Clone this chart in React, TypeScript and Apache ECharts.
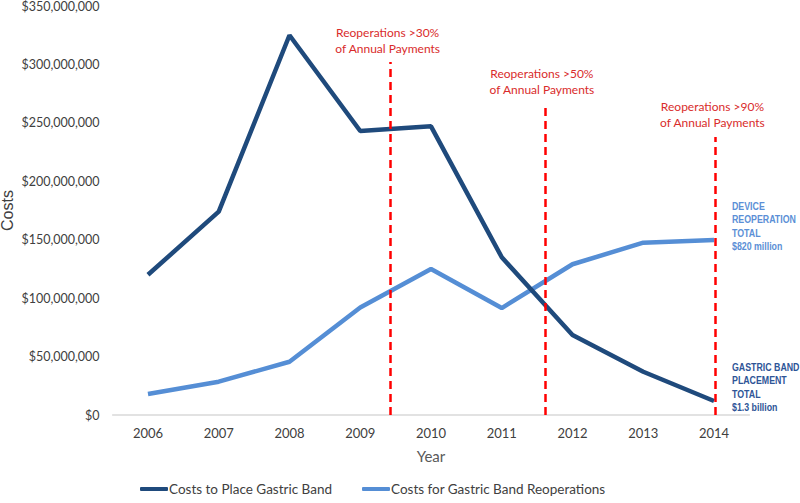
import React, { useEffect, useRef } from "react";
import * as echarts from "echarts";

const years = ["2006", "2007", "2008", "2009", "2010", "2011", "2012", "2013", "2014"];
const placeCosts = [120000000, 174000000, 325000000, 243000000, 247000000, 135000000, 68500000, 37000000, 12000000];
const reopCosts = [18000000, 28500000, 45600000, 92000000, 125000000, 91500000, 129000000, 147500000, 149700000];
const seriesNames = ["Costs to Place Gastric Band", "Costs for Gastric Band Reoperations"];
const thresholdLabels = [
  "Reoperations >30%\nof Annual Payments",
  "Reoperations >50%\nof Annual Payments",
  "Reoperations >90%\nof Annual Payments",
];
const thresholdPositions = [3.43, 5.61, 8.02];
const thresholdTops = [302000000, 263000000, 238000000];
const thresholdLabelGaps = [6, 10, 6];
const endLabels = ["GASTRIC BAND\nPLACEMENT\nTOTAL\n$1.3 billion", "DEVICE\nREOPERATION\nTOTAL\n$820 million"];
const endLabelColors = ["#2E5597", "#5B8FD6"];
const yTicks = { min: 0, max: 350000000, interval: 50000000 };

function fmt(v: number) {
  return "$" + Math.round(v).toString().replace(/\B(?=(\d{3})+(?!\d))/g, ",");
}

export default function App() {
  const ref = useRef<HTMLDivElement>(null);
  useEffect(() => {
    if (!ref.current) return;
    const chart = echarts.init(ref.current, null, { renderer: "svg" });
    chart.setOption({
      animation: false,
      backgroundColor: "#ffffff",
      grid: {
        left: 112.6,
        right: 50.6,
        top: 6,
        bottom: 88,
        outerBounds: { left: -100, right: -100, top: -100, bottom: -100 },
      },
      legend: {
        bottom: 2,
        left: 135,
        itemWidth: 28,
        itemHeight: 4,
        itemGap: 30,
        icon: "roundRect",
        textStyle: { fontFamily: "Lato", fontSize: 13.5, color: "#404040", padding: [0, 0, 0, -4] },
        data: seriesNames,
      },
      xAxis: [
        {
          type: "category",
          data: years,
          boundaryGap: true,
          name: "Year",
          nameLocation: "middle",
          nameGap: 33,
          nameTextStyle: { fontFamily: "Lato", fontSize: 15, color: "#595959" },
          axisLine: { lineStyle: { color: "#D9D9D9", width: 1.5 } },
          axisTick: { show: false },
          axisLabel: { fontFamily: "Lato", fontSize: 13, color: "#404040", margin: 11 },
        },
        { type: "value", min: -0.5, max: 8.5, show: false },
      ],
      yAxis: {
        type: "value",
        min: yTicks.min,
        max: yTicks.max,
        interval: yTicks.interval,
        name: "Costs",
        nameLocation: "middle",
        nameRotate: 90,
        nameGap: 97,
        nameMoveOverlap: false,
        nameTextStyle: { fontFamily: "'Liberation Sans', Arial, sans-serif", fontSize: 16, color: "#404040" },
        axisLine: { show: false },
        axisTick: { show: false },
        splitLine: { show: false },
        axisLabel: {
          fontFamily: "Lato",
          fontSize: 12.5,
          color: "#404040",
          margin: 13,
          formatter: (v: number) => fmt(v),
        },
      },
      series: [
        {
          name: seriesNames[0],
          type: "line",
          data: placeCosts,
          symbol: "none",
          lineStyle: { color: "#1F4A7C", width: 4.5 },
          itemStyle: { color: "#1F4A7C" },
          z: 3,
        },
        {
          name: seriesNames[1],
          type: "line",
          data: reopCosts,
          symbol: "none",
          lineStyle: { color: "#558ED5", width: 4.5 },
          itemStyle: { color: "#558ED5" },
          z: 2,
        },
        {
          name: "thresholds",
          type: "line",
          xAxisIndex: 1,
          data: thresholdPositions.map((p) => [p, 0]),
          symbol: "none",
          lineStyle: { opacity: 0 },
          clip: false,
          silent: true,
          z: 5,
          markLine: {
            silent: true,
            symbol: ["none", "none"],
            animation: false,
            lineStyle: { color: "#FF0000", type: [8, 5], width: 2.5 },
            label: {
              show: true,
              position: "end",
              fontFamily: "Lato",
              fontSize: 12,
              lineHeight: 16,
              color: "#D92B2B",
              offset: [-3, 0],
            },
            data: thresholdPositions.map((p, i) => [
              { coord: [p, 0] },
              {
                coord: [p, thresholdTops[i]],
                label: { formatter: thresholdLabels[i], distance: thresholdLabelGaps[i] },
              },
            ]),
          },
        },
      ],
    });

    const last = years.length - 1;
    const ends = [placeCosts[last], reopCosts[last]];
    const dy = [-14, -14];
    const elements = ends.map((v, i) => {
      const pt = chart.convertToPixel({ xAxisIndex: 0, yAxisIndex: 0 }, [years[last], v]) as number[];
      return {
        type: "text",
        x: pt[0] + 18,
        y: pt[1] + dy[i],
        scaleX: 0.8,
        style: {
          text: endLabels[i],
          fill: endLabelColors[i],
          font: "bold 11px 'Liberation Sans', Arial, sans-serif",
          lineHeight: 13.5,
          align: "left",
          verticalAlign: "middle",
        },
      };
    });
    chart.setOption({ graphic: { elements } });

    return () => chart.dispose();
  }, []);
  return <div ref={ref} style={{ width: 800, height: 503, position: "absolute", left: 0, top: 0 }} />;
}
